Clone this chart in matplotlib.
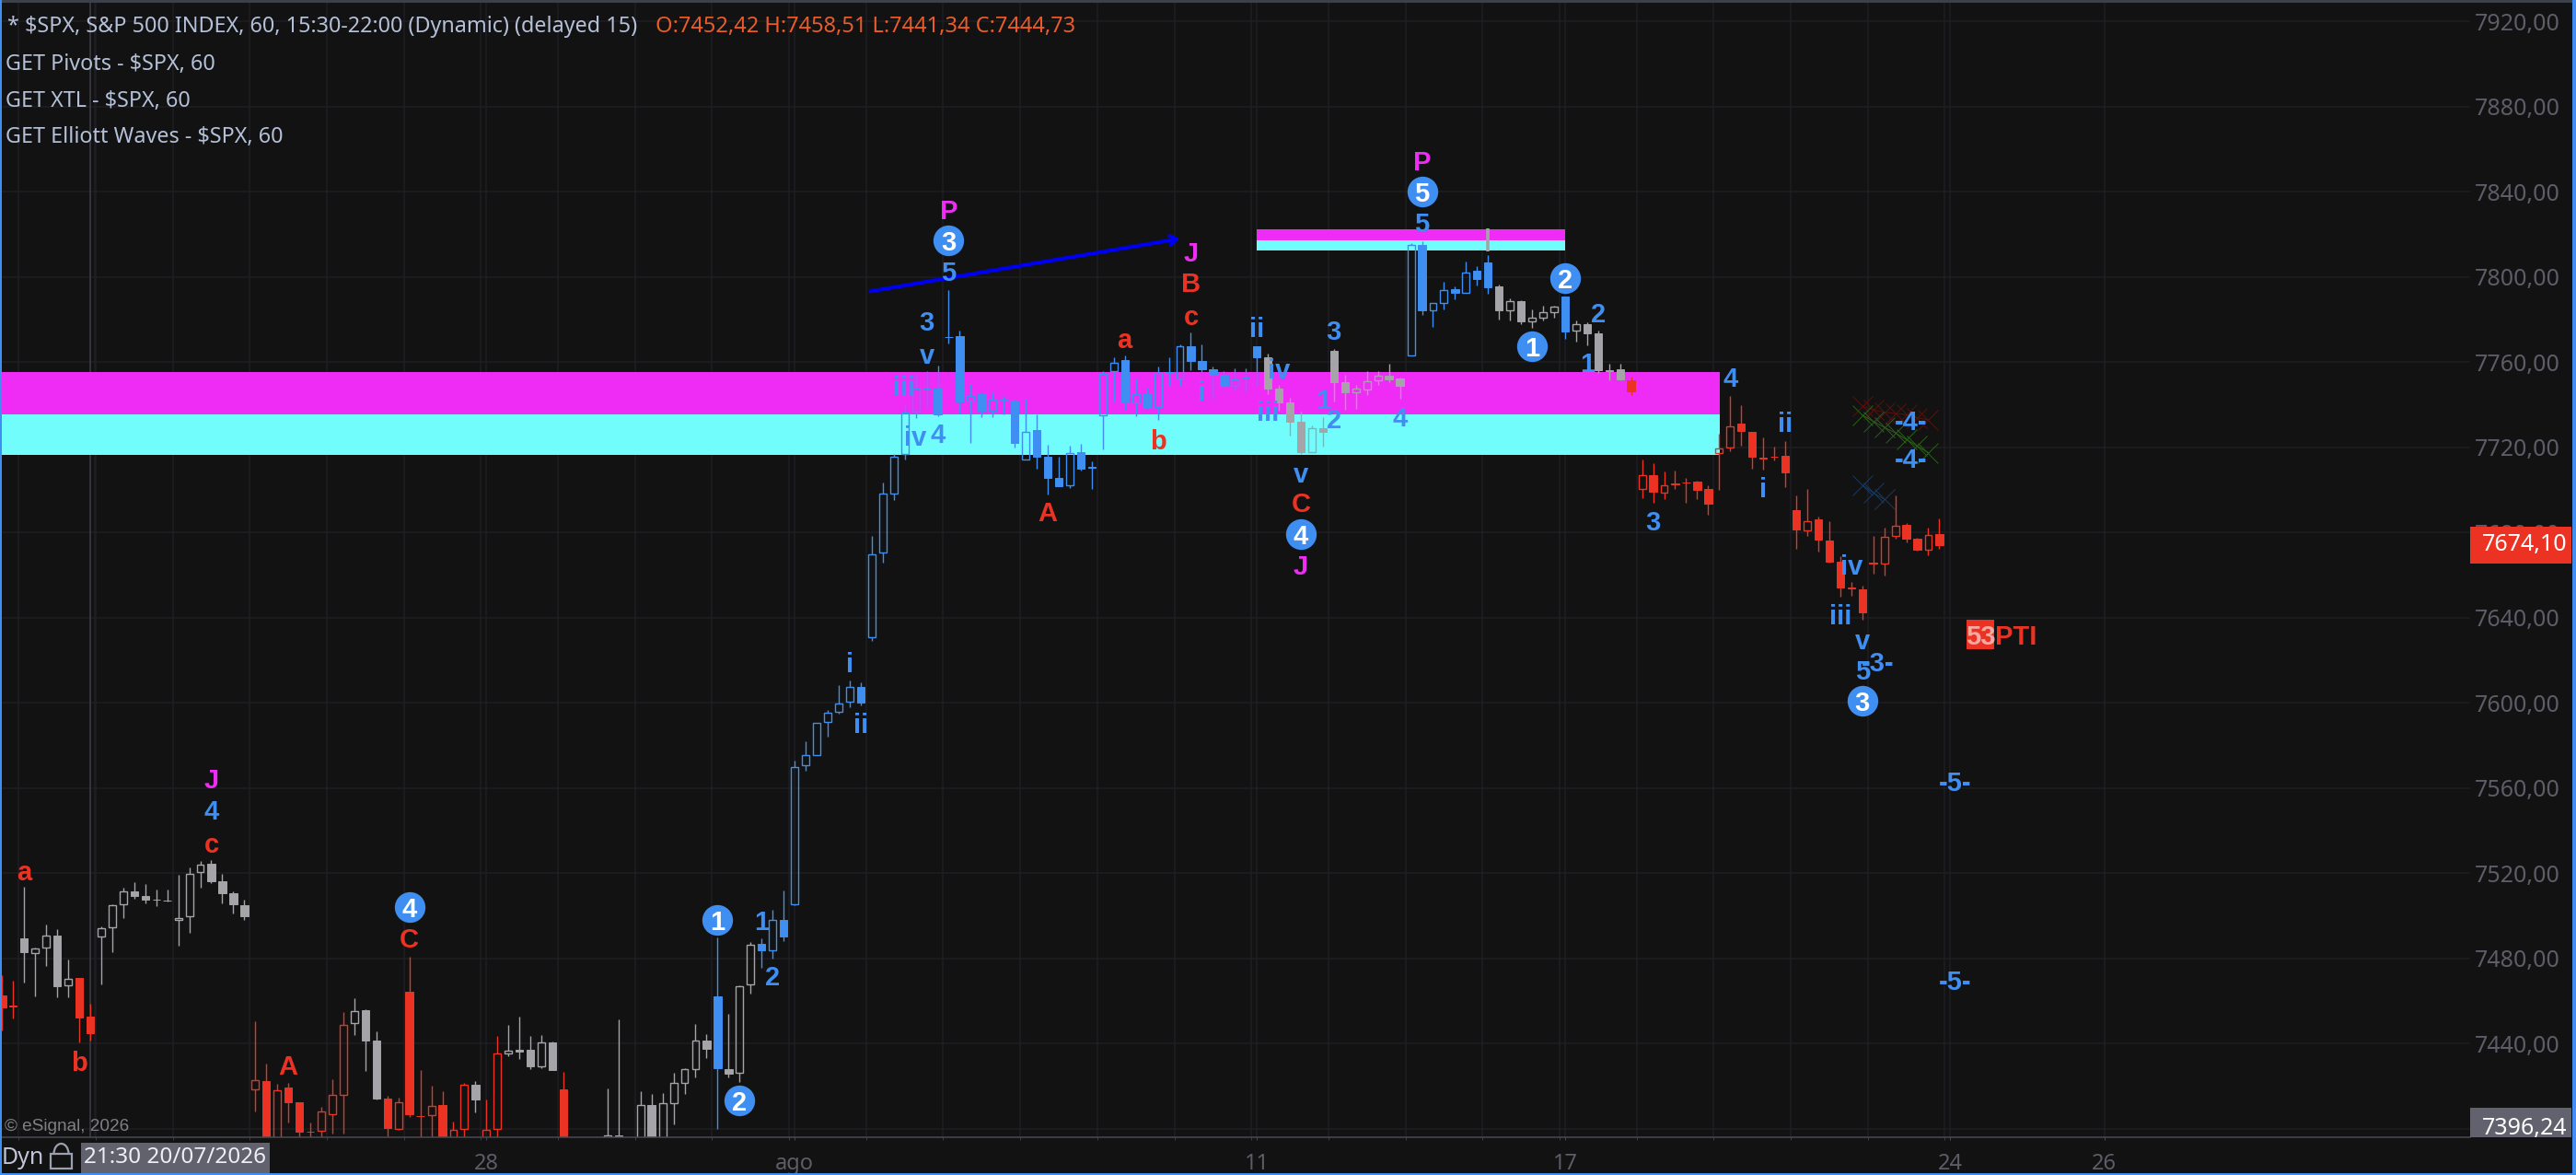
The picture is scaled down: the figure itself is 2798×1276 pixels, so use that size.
import matplotlib
matplotlib.use('Agg')
import matplotlib.pyplot as plt
from matplotlib.patches import Rectangle, Arc

# hourly candles of $SPX, one entry per bar
opens = [7462.5, 7457.8, 7489.3, 7482.7, 7485.0, 7490.6, 7467.2, 7470.7, 7452.5, 7490.4,
         7494.5, 7505.2, 7511.4, 7509.2, 7507.7, 7507.3, 7498.0, 7499.7, 7520.4, 7524.3,
         7516.3, 7510.5, 7504.9, 7418.7, 7422.3, 7390.0, 7419.2, 7412.3, 7398.7, 7399.2,
         7406.6, 7416.1, 7449.5, 7455.7, 7441.3, 7414.0, 7400.0, 7464.2, 7406.0, 7406.3,
         7411.0, 7390.0, 7400.0, 7420.5, 7395.0, 7400.0, 7435.5, 7436.9, 7437.0, 7429.4,
         7440.5, 7418.3, 7392.0, 7392.0, 7390.0, 7394.0, 7396.7, 7390.0, 7395.0, 7411.1,
         7395.0, 7412.1, 7421.6, 7428.2, 7441.6, 7462.0, 7428.2, 7426.2, 7468.0, 7486.8,
         7483.6, 7497.9, 7505.3, 7570.6, 7575.3, 7590.9, 7595.6, 7600.5, 7607.3, 7631.0,
         7670.6, 7698.4, 7716.7, 7736.9, 7747.7, 7747.5, 7771.9, 7772.2, 7741.8, 7744.8,
         7737.3, 7742.3, 7741.8, 7714.1, 7728.0, 7715.8, 7705.5, 7702.0, 7717.6, 7710.9,
         7735.2, 7755.6, 7761.2, 7740.9, 7745.1, 7738.8, 7755.4, 7752.2, 7767.3, 7760.4,
         7756.5, 7753.9, 7749.1, 7752.9, 7767.5, 7762.1, 7747.6, 7741.0, 7732.0, 7717.9,
         7728.9, 7765.2, 7750.5, 7746.0, 7747.3, 7751.3, 7753.5, 7752.2, 7763.3, 7815.0,
         7784.5, 7788.0, 7794.3, 7792.7, 7802.8, 7806.7, 7795.6, 7784.5, 7788.5, 7779.3,
         7781.0, 7783.6, 7790.8, 7775.0, 7777.8, 7773.5, 7756.3, 7756.6, 7751.5, 7700.3,
         7706.9, 7698.9, 7702.9, 7703.6, 7703.8, 7700.3, 7717.2, 7720.0, 7731.2, 7727.1,
         7715.2, 7715.7, 7715.9, 7690.3, 7681.1, 7686.0, 7676.1, 7666.3, 7654.0, 7653.2,
         7665.7, 7665.3, 7678.3, 7683.4, 7677.0, 7672.0, 7679.1]
highs = [7472.0, 7469.4, 7513.5, 7485.0, 7495.8, 7493.6, 7479.3, 7470.7, 7458.6, 7494.9,
         7505.4, 7513.1, 7515.7, 7514.8, 7512.4, 7512.4, 7519.4, 7522.6, 7525.6, 7526.0,
         7519.6, 7511.3, 7507.5, 7450.4, 7430.5, 7421.0, 7421.4, 7412.3, 7402.8, 7410.2,
         7423.1, 7454.7, 7461.2, 7456.1, 7445.6, 7415.5, 7414.5, 7480.6, 7427.5, 7420.1,
         7417.5, 7403.2, 7421.4, 7422.4, 7413.6, 7443.4, 7448.7, 7452.6, 7443.4, 7443.8,
         7440.8, 7426.7, 7394.0, 7394.0, 7396.5, 7418.9, 7451.3, 7394.0, 7417.6, 7416.2,
         7416.6, 7426.2, 7428.4, 7449.2, 7444.3, 7489.7, 7453.9, 7467.5, 7487.5, 7489.2,
         7502.7, 7512.1, 7572.9, 7581.8, 7590.5, 7596.5, 7608.2, 7610.4, 7609.5, 7678.4,
         7703.4, 7717.1, 7739.6, 7754.9, 7755.8, 7758.2, 7793.8, 7774.8, 7749.6, 7746.0,
         7746.0, 7744.2, 7742.6, 7743.0, 7735.4, 7721.0, 7715.8, 7720.6, 7721.5, 7713.4,
         7756.0, 7762.5, 7763.0, 7752.2, 7748.1, 7757.8, 7762.1, 7768.3, 7773.8, 7768.2,
         7757.8, 7756.0, 7756.9, 7757.0, 7767.5, 7764.0, 7749.2, 7743.1, 7736.6, 7730.3,
         7734.0, 7766.0, 7753.9, 7749.2, 7755.7, 7755.7, 7759.1, 7752.6, 7815.8, 7816.6,
         7787.6, 7797.6, 7795.6, 7807.2, 7805.1, 7810.3, 7796.4, 7789.8, 7789.1, 7784.6,
         7786.5, 7786.5, 7790.8, 7779.6, 7778.7, 7774.8, 7759.2, 7759.2, 7753.2, 7714.3,
         7712.6, 7708.7, 7709.1, 7705.5, 7704.3, 7702.2, 7726.4, 7744.0, 7739.7, 7727.1,
         7724.5, 7720.2, 7722.8, 7697.3, 7700.3, 7687.3, 7685.3, 7668.9, 7656.6, 7655.0,
         7678.4, 7682.3, 7697.3, 7684.3, 7677.5, 7682.3, 7686.6]
lows = [7446.2, 7452.0, 7468.8, 7462.3, 7476.6, 7461.6, 7461.9, 7440.7, 7441.4, 7468.0,
        7483.0, 7499.0, 7508.0, 7506.0, 7504.6, 7506.5, 7486.1, 7492.2, 7513.4, 7515.4,
        7506.0, 7501.1, 7498.2, 7408.3, 7385.0, 7385.0, 7403.0, 7390.0, 7393.0, 7390.0,
        7397.9, 7397.9, 7444.2, 7427.3, 7413.9, 7396.5, 7399.6, 7405.7, 7390.0, 7390.0,
        7390.0, 7385.0, 7392.0, 7407.8, 7392.0, 7392.0, 7434.0, 7432.9, 7428.0, 7428.6,
        7427.7, 7390.0, 7385.0, 7385.0, 7385.0, 7392.0, 7393.0, 7385.0, 7392.0, 7392.0,
        7392.0, 7402.2, 7416.5, 7424.2, 7433.4, 7400.0, 7423.9, 7422.0, 7463.5, 7475.6,
        7480.1, 7488.3, 7505.0, 7568.2, 7575.3, 7584.2, 7594.8, 7597.9, 7598.8, 7629.0,
        7665.9, 7695.4, 7714.2, 7733.7, 7738.9, 7734.6, 7768.7, 7735.9, 7722.0, 7734.1,
        7734.1, 7735.4, 7720.0, 7714.1, 7710.1, 7698.0, 7701.9, 7700.8, 7709.2, 7700.6,
        7719.2, 7741.5, 7737.6, 7734.7, 7738.0, 7733.0, 7748.7, 7748.7, 7756.3, 7755.0,
        7742.9, 7747.7, 7746.7, 7746.0, 7749.0, 7745.0, 7737.2, 7725.7, 7716.9, 7717.9,
        7720.5, 7741.7, 7737.8, 7738.2, 7744.7, 7749.5, 7750.6, 7743.0, 7763.3, 7782.3,
        7776.5, 7784.8, 7789.5, 7792.7, 7796.0, 7792.1, 7780.0, 7779.6, 7778.0, 7776.1,
        7779.6, 7780.9, 7770.9, 7769.6, 7767.9, 7755.0, 7751.6, 7751.5, 7744.6, 7696.1,
        7694.0, 7695.7, 7700.5, 7694.0, 7695.7, 7688.3, 7700.0, 7718.2, 7720.8, 7710.0,
        7709.5, 7713.9, 7701.3, 7672.3, 7678.4, 7671.0, 7665.9, 7650.0, 7650.3, 7639.0,
        7660.7, 7659.8, 7677.2, 7675.4, 7671.6, 7669.5, 7672.5]
closes = [7457.0, 7457.4, 7483.1, 7484.5, 7490.6, 7467.0, 7470.6, 7452.3, 7445.0, 7494.0,
          7504.9, 7511.4, 7509.5, 7507.7, 7507.5, 7507.1, 7499.1, 7519.9, 7524.2, 7516.4,
          7510.8, 7505.2, 7500.0, 7423.0, 7390.0, 7418.2, 7412.5, 7398.6, 7398.4, 7408.3,
          7416.1, 7448.9, 7455.4, 7441.6, 7414.2, 7400.4, 7412.6, 7406.6, 7405.8, 7410.7,
          7395.0, 7399.5, 7420.5, 7413.9, 7399.6, 7435.2, 7436.5, 7436.3, 7429.4, 7440.4,
          7427.7, 7392.0, 7388.0, 7388.0, 7388.0, 7396.7, 7395.0, 7388.0, 7411.0, 7395.0,
          7411.8, 7421.3, 7427.8, 7441.6, 7437.6, 7428.6, 7425.7, 7466.9, 7486.6, 7483.7,
          7498.2, 7490.1, 7569.7, 7575.3, 7590.5, 7595.2, 7599.9, 7607.3, 7600.3, 7669.8,
          7698.1, 7715.8, 7736.4, 7747.4, 7747.4, 7735.6, 7771.6, 7741.6, 7744.1, 7737.3,
          7742.5, 7742.0, 7722.2, 7727.1, 7715.7, 7705.7, 7701.9, 7717.4, 7710.1, 7710.6,
          7754.3, 7759.8, 7740.9, 7745.0, 7738.3, 7754.8, 7755.1, 7767.6, 7760.7, 7756.8,
          7754.0, 7748.8, 7752.0, 7752.6, 7762.4, 7747.7, 7741.1, 7732.2, 7717.8, 7728.9,
          7727.4, 7750.8, 7746.0, 7747.4, 7750.9, 7753.5, 7752.0, 7749.0, 7814.9, 7784.5,
          7787.6, 7793.7, 7792.7, 7802.3, 7799.0, 7795.1, 7784.5, 7788.5, 7779.3, 7780.7,
          7783.3, 7785.9, 7774.4, 7777.7, 7773.5, 7756.2, 7756.0, 7751.9, 7746.3, 7706.8,
          7699.3, 7702.0, 7702.6, 7703.3, 7700.0, 7693.7, 7719.6, 7730.0, 7727.8, 7715.7,
          7714.9, 7715.4, 7708.2, 7681.4, 7685.5, 7676.8, 7666.3, 7654.3, 7653.8, 7642.5,
          7665.4, 7677.8, 7683.3, 7677.2, 7671.9, 7679.0, 7674.2]
# trend state of each bar: r = down, g = neutral, b = up
states = ('r' * 2 + 'g' * 5 + 'r' * 2 + 'g' * 14 + 'r' * 9 + 'g' * 3 + 'r' * 8 + 'g' + 'r' * 2
          + 'g' * 5 + 'r' * 4 + 'g' * 10 + 'b' + 'g' * 3 + 'b' * 46 + 'g' * 13 + 'b' * 8
          + 'g' * 6 + 'b' + 'g' * 5 + 'r' * 29)

# wave labels as (text, bar, price)
blue_labels = [('4', 19, 7549.8), ('1', 69, 7497.9), ('2', 70, 7472.0), ('i', 77, 7619.1),
               ('ii', 78, 7590.5), ('5', 86, 7802.9), ('3', 84, 7779.5), ('v', 84, 7764.0),
               ('iii', 82, 7748.8), ('iv', 83, 7725.7), ('4', 85, 7726.8), ('i', 109, 7746.7),
               ('ii', 114, 7776.6), ('iv', 116, 7757.1), ('iii', 115, 7737.2), ('v', 118, 7708.1),
               ('3', 121, 7775.1), ('1', 120, 7742.7), ('2', 121, 7733.8), ('4', 127, 7734.5),
               ('5', 129, 7825.9), ('2', 145, 7783.4), ('1', 144, 7760.0), ('4', 157, 7753.1),
               ('3', 150, 7685.7), ('ii', 162, 7731.9), ('i', 160, 7701.2), ('iv', 168, 7664.9),
               ('iii', 167, 7641.5), ('v', 169, 7629.8), ('5', 169, 7615.8),
               ('-3-', 170.4, 7619.4), ('-4-', 173.4, 7732.9), ('-4-', 173.4, 7715.0),
               ('-5-', 177.4, 7563.4), ('-5-', 177.4, 7469.8)]
red_labels = [('a', 2, 7521.4), ('b', 7, 7432.0), ('c', 19, 7534.4), ('A', 26, 7430.3),
              ('C', 37, 7489.7), ('a', 102, 7771.5), ('A', 95, 7690.1), ('b', 105, 7723.9),
              ('B', 108, 7797.8), ('c', 108, 7782.0), ('C', 118, 7694.4)]
pink_labels = [('J', 19, 7564.7), ('P', 86, 7831.8), ('J', 108, 7812.0), ('J', 118, 7665.1),
               ('P', 129, 7854.8)]
circle_labels = [('4', 37, 7504.1), ('1', 65, 7498.2), ('2', 67, 7413.3), ('3', 86, 7817.2),
                 ('4', 118, 7679.3), ('5', 129, 7840.1), ('1', 139, 7767.6), ('2', 142, 7799.4),
                 ('3', 169, 7601.1)]

# pivot zones: first bar, last bar and the three prices of magenta and cyan
zone_start = [-1, 114]
zone_end = [156.05, 142]
zone_top = [7755.4, 7822.3]
zone_mid = [7735.5, 7817.1]
zone_bottom = [7716.4, 7812.4]

# XTL trend channels drawn with crosses
xtl_bars = [169, 170, 171, 172, 173, 174, 175]
xtl_red = [7739.4, 7737.6, 7736.5, 7735.9, 7735.3, 7733.9, 7732.9]
xtl_green = [7735.2, 7732.2, 7729.4, 7726.8, 7723.7, 7720.6, 7717.5]
xtl_blue_bars = [169, 170, 171]
xtl_blue = [7702.3, 7698.7, 7695.6]

# hand drawn arrow and the lone grey wick above the upper zone
arrow_bars = [78.9, 107.0]
arrow_prices = [7793.3, 7818.0]
spike_bar = 135
spike_prices = [7812.2, 7822.8]

price_ticks = [7400, 7440, 7480, 7520, 7560, 7600, 7640, 7680, 7720, 7760, 7800, 7840, 7880, 7920]
shown_ticks = price_ticks[1:]
date_bars = [44, 72, 114, 142, 177, 191]
date_labels = ['28', 'ago', '11', '17', '24', '26']
last_price = 7674.10
first_price = 7396.24

W, H = 2798, 1276
BG = '#121212'
RED = '#ec3323'
BLUE = '#3f8ef2'
GREY = '#a4a4a9'
PINK = '#ee2cf5'
CYAN = '#72fdfd'
GRID = '#1f1f24'
MUTED = '#5d5d69'
HEAD = '#b4c0d8'
LABEL_FONT = 'Liberation Sans'
UI_FONT = 'Noto Sans'
colours = {'r': RED, 'g': GREY, 'b': BLUE}

fig = plt.figure(figsize=(W / 100, H / 100), dpi=100, facecolor=BG)
ax = fig.add_axes([0, 1 - 1235 / H, 2683 / W, 1232 / H], facecolor=BG)
ax.set_xlim(-2.33 / 11.955, (2683 - 2.33) / 11.955)
ax.set_ylim(7396.0, 7928.8)

# grid: one line per session and one per labelled date
ax.set_yticks(price_ticks)
ax.set_yticklabels([f'{v:.2f}'.replace('.', ',') if v in shown_ticks else '' for v in price_ticks],
                   family=UI_FONT, fontsize=18, color=MUTED)
ax.yaxis.tick_right()
ax.tick_params(axis='y', length=0, pad=3.5)
for v in price_ticks:
    ax.axhline(v, color=GRID, lw=1.1, zorder=0)
session_lines = [1.5 + 7 * k for k in range(26)]
ax.set_xticks(session_lines, minor=True)
ax.set_xticks(date_bars)
ax.set_xticklabels(date_labels, family=UI_FONT, fontsize=17, color=MUTED)
ax.tick_params(axis='x', which='major', length=2, color='#44444e', pad=10)
ax.tick_params(axis='x', which='minor', length=2, color='#44444e')
for v in session_lines + date_bars + [8.45]:
    ax.axvline(v, color=GRID, lw=1.1, zorder=0)
ax.axvline(8, color='#3e3e46', lw=1.1, zorder=0.5)  # cursor line
for side in ['top', 'left', 'right']:
    ax.spines[side].set_visible(False)
ax.spines['bottom'].set_color('#4a4a55')
ax.spines['bottom'].set_linewidth(1.1)

# zones
for i in range(len(zone_start)):
    ax.fill_between([zone_start[i], zone_end[i]], zone_mid[i], zone_top[i], color=PINK, lw=0, zorder=1)
    ax.fill_between([zone_start[i], zone_end[i]], zone_bottom[i], zone_mid[i], color=CYAN, lw=0, zorder=1)

# candles, up bars are hollow so the zones show through them
for i in range(len(opens)):
    c = colours[states[i]]
    top = max(opens[i], closes[i])
    bottom = min(opens[i], closes[i])
    ax.vlines(i, top, highs[i], color=c, lw=1, zorder=2)
    ax.vlines(i, lows[i], bottom, color=c, lw=1, zorder=2)
    if closes[i] > opens[i]:
        ax.bar(i, top - bottom, bottom=bottom, width=0.66, facecolor='none', edgecolor=c, lw=1, zorder=2.5)
    else:
        ax.bar(i, top - bottom, bottom=bottom, width=0.7, facecolor=c, edgecolor=c, lw=0.7, zorder=2.5)
ax.vlines(spike_bar, spike_prices[0], spike_prices[1], color=GREY, lw=2.6, zorder=2)

# channels and arrow
ax.plot(xtl_bars, xtl_red, color='#55130f', lw=0.7, marker='x', ms=16, mew=0.7, zorder=3)
ax.plot(xtl_bars, xtl_green, color='#2b6119', lw=0.7, marker='x', ms=16, mew=0.7, zorder=3)
ax.plot(xtl_blue_bars, xtl_blue, color='#1b3a5e', lw=0.7, marker='x', ms=16, mew=0.7, zorder=3)
ax.annotate('', xy=(arrow_bars[1], arrow_prices[1]), xytext=(arrow_bars[0], arrow_prices[0]), zorder=4,
            arrowprops=dict(arrowstyle='->,head_length=0.5,head_width=0.35', color='#0000f0', lw=3,
                            shrinkA=0, shrinkB=0))

# wave labels
for labels, c in [(blue_labels, BLUE), (red_labels, RED), (pink_labels, PINK)]:
    for t, b, p in labels:
        ax.text(b, p, t, color=c, family=LABEL_FONT, weight='bold', fontsize=21, ha='center',
                va='center_baseline', zorder=5)
for t, b, p in circle_labels:
    ax.plot(b, p, 'o', color=BLUE, ms=24, mew=0, zorder=5)
    ax.text(b, p, t, color='white', family=LABEL_FONT, weight='bold', fontsize=21, ha='center',
            va='center_baseline', zorder=6)

# 53 PTI tag
ax.fill_between([178.5, 181.0], 7625.2, 7639.2, color=RED, lw=0, zorder=5)
ax.text(179.75, 7632.2, '53', color='#f6a9a0', family=LABEL_FONT, weight='bold', fontsize=21,
        ha='center', va='center_baseline', zorder=6)
ax.text(181.05, 7632.2, 'PTI', color=RED, family=LABEL_FONT, weight='bold', fontsize=21,
        ha='left', va='center_baseline', zorder=6)

# price boxes on the right
price_tf = ax.get_yaxis_transform()
ax.add_patch(Rectangle((1.0, last_price - 8.7), 110 / 2683, 17.4, transform=price_tf, color=RED,
                       clip_on=False, lw=0, zorder=7))
ax.text(1 + 13 / 2683, last_price, f'{last_price:.2f}'.replace('.', ','), transform=price_tf, color='white',
        family=UI_FONT, fontsize=18, va='center', zorder=8)
ax.add_patch(Rectangle((1.0, 7396.0), 110 / 2683, 13.8, transform=price_tf, color='#62626f',
                       clip_on=False, lw=0, zorder=7))
ax.text(1 + 13 / 2683, 7400.2, f'{first_price:.2f}'.replace('.', ','), transform=price_tf, color='white',
        family=UI_FONT, fontsize=18, va='center', zorder=8)

# screen furniture, placed in pixels on an overlay
ov = fig.add_axes([0, 0, 1, 1], facecolor='none', zorder=10)
ov.set_xlim(0, W)
ov.set_ylim(H, 0)
ov.axis('off')
ov.add_patch(Rectangle((0, 0), W, 3, color='#3c4048', lw=0))
ov.add_patch(Rectangle((0, 0), 2, H, color=BLUE, lw=0))
ov.add_patch(Rectangle((W - 4, 0), 4, H, color=BLUE, lw=0))
ov.add_patch(Rectangle((0, H - 2), W, 2, color=BLUE, lw=0))
ov.text(8, 29, '* $SPX, S&P 500 INDEX, 60, 15:30-22:00 (Dynamic) (delayed 15)', color=HEAD,
        family=UI_FONT, fontsize=16.8, va='center')
ov.text(712, 29, 'O:7452,42 H:7458,51 L:7441,34 C:7444,73', color='#e85c2a', family=UI_FONT,
        fontsize=17, va='center')
ov.text(6, 70, 'GET Pivots - $SPX, 60', color=HEAD, family=UI_FONT, fontsize=16.8, va='center')
ov.text(6, 110, 'GET XTL - $SPX, 60', color=HEAD, family=UI_FONT, fontsize=16.8, va='center')
ov.text(6, 149, 'GET Elliott Waves - $SPX, 60', color=HEAD, family=UI_FONT, fontsize=16.8, va='center')
ov.text(5, 1224, '© eSignal, 2026', color='#808084', family=LABEL_FONT, fontsize=13.7, va='center')
ov.text(2, 1258, 'Dyn', color='#c0c6d6', family=UI_FONT, weight='bold', fontsize=18, va='center')
ov.add_patch(Rectangle((55, 1253), 23, 16, facecolor='none', edgecolor='#9aa0ae', lw=1.6))
ov.add_patch(Arc((66.5, 1253), 16, 22, theta1=180, theta2=360, edgecolor='#9aa0ae', lw=1.6))
ov.add_patch(Rectangle((88, 1241), 205, 33, color='#62626f', lw=0))
ov.text(190, 1257, '21:30 20/07/2026', color='#eeeef4', family=UI_FONT, fontsize=17.5, ha='center', va='center')

fig.savefig('out.png', dpi=100, facecolor=BG)
plt.close()
